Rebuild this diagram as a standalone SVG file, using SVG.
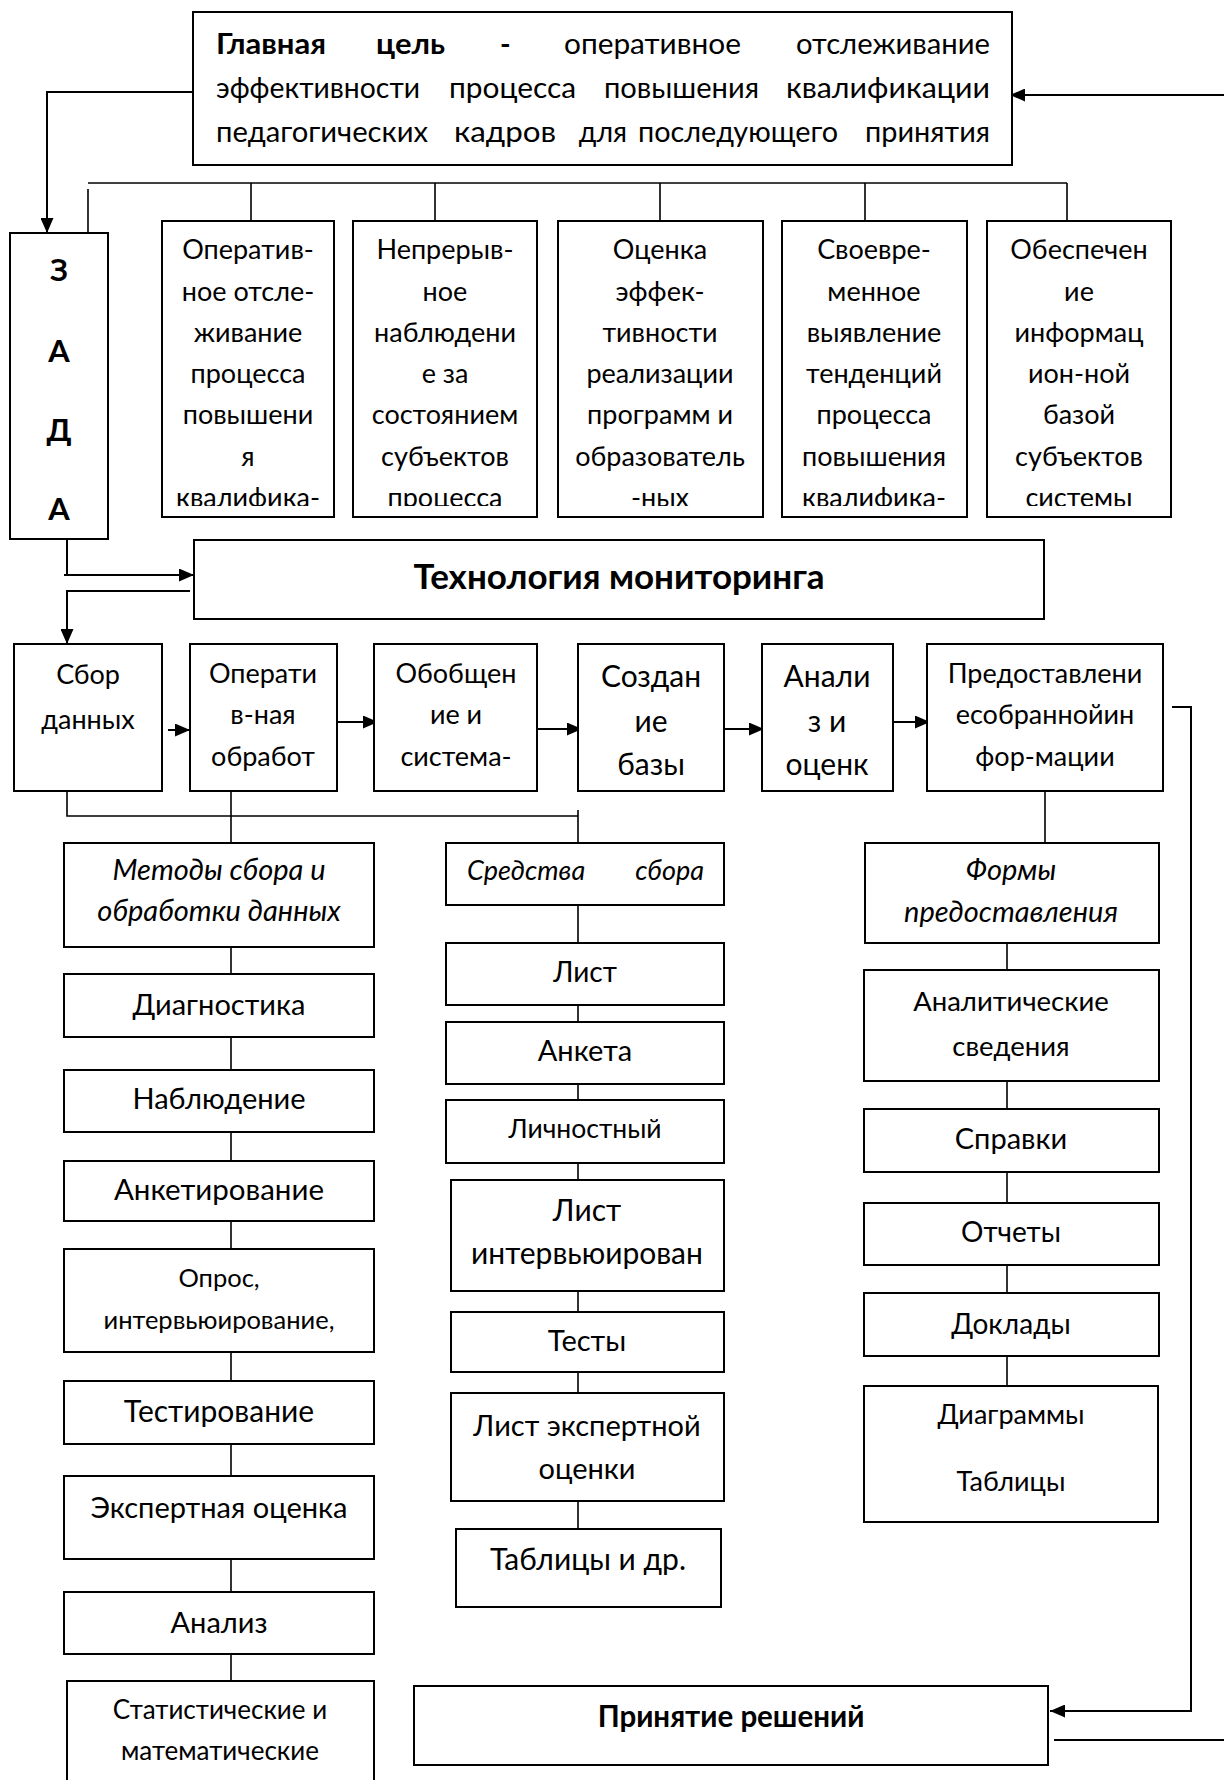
<svg xmlns="http://www.w3.org/2000/svg" width="1224" height="1780" viewBox="0 0 1224 1780">
<style>
.box{fill:#fff;stroke:#000;stroke-width:2}
.ln{fill:none;stroke:#000;stroke-width:2}
.thin{fill:none;stroke:#000;stroke-width:1.6}
text{font-family:Lato,"Liberation Sans",sans-serif;fill:#000}
.t{font-size:29px;text-anchor:middle}
.tt{font-size:27px;text-anchor:middle}
.tb{font-weight:bold;text-anchor:middle}
.ti{font-style:italic}
.top{font-size:28.5px}
</style>
<defs>
<marker id="ah" markerUnits="userSpaceOnUse" markerWidth="15" markerHeight="13" refX="15" refY="6.5" orient="auto">
<path d="M0,0 L15,6.5 L0,13 z" fill="#000"/>
</marker>
<clipPath id="c1"><rect x="162" y="221" width="172" height="285"/></clipPath>
<clipPath id="c2"><rect x="353" y="221" width="184" height="285"/></clipPath>
<clipPath id="c3"><rect x="558" y="221" width="205" height="285"/></clipPath>
<clipPath id="c4"><rect x="782" y="221" width="185" height="285"/></clipPath>
<clipPath id="c5"><rect x="987" y="221" width="184" height="285"/></clipPath>
</defs>

<g id="connectors">
<path class="ln" d="M193,92 H47 V233" marker-end="url(#ah)"/>
<path class="ln" d="M1224,95 H1010" marker-end="url(#ah)"/>
<path class="thin" d="M88,183 H1067"/>
<path class="thin" d="M88,189 V233"/>
<path class="thin" d="M251,183 V221 M435,183 V221 M660,183 V221 M865,183 V221 M1067,183 V221"/>
<path class="ln" d="M67,539 V575 M64,575 H194" marker-end="url(#ah)"/>
<path class="ln" d="M190,591 H67 V644" marker-end="url(#ah)"/>
<path class="ln" d="M168,730 H190" marker-end="url(#ah)"/>
<path class="ln" d="M333,722 H378" marker-end="url(#ah)"/>
<path class="ln" d="M538,729 H582" marker-end="url(#ah)"/>
<path class="ln" d="M721,729 H764" marker-end="url(#ah)"/>
<path class="ln" d="M885,722 H930" marker-end="url(#ah)"/>
<path class="ln" d="M1172,707 H1191 V1711 H1050" marker-end="url(#ah)"/>
<path class="ln" d="M1054,1740 H1224"/>
<path class="thin" d="M67,791 V816 H578 M578,810 V843"/>
<path class="thin" d="M231,791 V843"/>
<path class="thin" d="M1045,791 V843"/>
<path class="thin" d="M231,947 V974 M231,1037 V1070 M231,1132 V1161 M231,1221 V1249 M231,1352 V1381 M231,1444 V1476 M231,1559 V1592 M231,1654 V1681"/>
<path class="thin" d="M578,905 V945 M578,1001 V1027 M578,1080 V1105 M578,1154 V1182 M578,1289 V1316 M578,1372 V1396 M578,1501 V1529"/>
<path class="thin" d="M1007,943 V970 M1007,1081 V1109 M1007,1172 V1203 M1007,1265 V1293 M1007,1356 V1386"/>
</g>

<g id="goal">
<rect class="box" x="193" y="12" width="819" height="153"/>
<text class="top" x="216" y="54" font-weight="bold" textLength="110" lengthAdjust="spacingAndGlyphs">Главная</text>
<text class="top" x="376" y="54" font-weight="bold" textLength="69" lengthAdjust="spacingAndGlyphs">цель</text>
<text class="top" x="500" y="54" font-weight="bold">-</text>
<text class="top" x="564" y="54" textLength="177" lengthAdjust="spacingAndGlyphs">оперативное</text>
<text class="top" x="796" y="54" textLength="194" lengthAdjust="spacingAndGlyphs">отслеживание</text>
<text class="top" x="216" y="98" textLength="204" lengthAdjust="spacingAndGlyphs">эффективности</text>
<text class="top" x="449" y="98" textLength="127" lengthAdjust="spacingAndGlyphs">процесса</text>
<text class="top" x="604" y="98" textLength="155" lengthAdjust="spacingAndGlyphs">повышения</text>
<text class="top" x="786" y="98" textLength="204" lengthAdjust="spacingAndGlyphs">квалификации</text>
<text class="top" x="216" y="142" textLength="212" lengthAdjust="spacingAndGlyphs">педагогических</text>
<text class="top" x="454" y="142" textLength="102" lengthAdjust="spacingAndGlyphs">кадров</text>
<text class="top" x="603" y="142" text-anchor="middle">для</text>
<text class="top" x="638" y="142" textLength="200" lengthAdjust="spacingAndGlyphs">последующего</text>
<text class="top" x="865" y="142" textLength="125" lengthAdjust="spacingAndGlyphs">принятия</text>
</g>

<g id="zadachi">
<rect class="box" x="10" y="233" width="98" height="306"/>
<text class="tb" style="font-size:31px" x="59" y="281">З</text>
<text class="tb" style="font-size:31px" x="59" y="362">А</text>
<text class="tb" style="font-size:31px" x="59" y="441">Д</text>
<text class="tb" style="font-size:31px" x="59" y="520">А</text>
</g>

<g id="task1">
<rect class="box" x="162" y="221" width="172" height="296"/>
<g clip-path="url(#c1)"><text class="tt"><tspan x="248" y="259">Оператив-</tspan><tspan x="248" y="301">ное отсле-</tspan><tspan x="248" y="342">живание</tspan><tspan x="248" y="383">процесса</tspan><tspan x="248" y="424">повышени</tspan><tspan x="248" y="466">я</tspan><tspan x="248" y="507">квалифика-</tspan></text></g>
</g>
<g id="task2">
<rect class="box" x="353" y="221" width="184" height="296"/>
<g clip-path="url(#c2)"><text class="tt"><tspan x="445" y="259">Непрерыв-</tspan><tspan x="445" y="301">ное</tspan><tspan x="445" y="342">наблюдени</tspan><tspan x="445" y="383">е за</tspan><tspan x="445" y="424">состоянием</tspan><tspan x="445" y="466">субъектов</tspan><tspan x="445" y="507">процесса</tspan></text></g>
</g>
<g id="task3">
<rect class="box" x="558" y="221" width="205" height="296"/>
<g clip-path="url(#c3)"><text class="tt"><tspan x="660" y="259">Оценка</tspan><tspan x="660" y="301">эффек-</tspan><tspan x="660" y="342">тивности</tspan><tspan x="660" y="383">реализации</tspan><tspan x="660" y="424">программ и</tspan><tspan x="660" y="466">образователь</tspan><tspan x="660" y="507">-ных</tspan></text></g>
</g>
<g id="task4">
<rect class="box" x="782" y="221" width="185" height="296"/>
<g clip-path="url(#c4)"><text class="tt"><tspan x="874" y="259">Своевре-</tspan><tspan x="874" y="301">менное</tspan><tspan x="874" y="342">выявление</tspan><tspan x="874" y="383">тенденций</tspan><tspan x="874" y="424">процесса</tspan><tspan x="874" y="466">повышения</tspan><tspan x="874" y="507">квалифика-</tspan></text></g>
</g>
<g id="task5">
<rect class="box" x="987" y="221" width="184" height="296"/>
<g clip-path="url(#c5)"><text class="tt"><tspan x="1079" y="259">Обеспечен</tspan><tspan x="1079" y="301">ие</tspan><tspan x="1079" y="342">информац</tspan><tspan x="1079" y="383">ион-ной</tspan><tspan x="1079" y="424">базой</tspan><tspan x="1079" y="466">субъектов</tspan><tspan x="1079" y="507">системы</tspan></text></g>
</g>

<g id="tech">
<rect class="box" x="194" y="540" width="850" height="79"/>
<text class="tb" style="font-size:35px" x="619" y="589">Технология мониторинга</text>
</g>

<g id="sbor">
<rect class="box" x="14" y="644" width="148" height="147"/>
<text class="tt"><tspan x="88" y="684">Сбор</tspan><tspan x="88" y="729">данных</tspan></text>
</g>
<g id="obrab">
<rect class="box" x="190" y="644" width="147" height="147"/>
<text class="tt"><tspan x="263" y="683">Операти</tspan><tspan x="263" y="724">в-ная</tspan><tspan x="263" y="766">обработ</tspan></text>
</g>
<g id="obobsh">
<rect class="box" x="374" y="644" width="163" height="147"/>
<text class="tt"><tspan x="456" y="683">Обобщен</tspan><tspan x="456" y="724">ие и</tspan><tspan x="456" y="766">система-</tspan></text>
</g>
<g id="baza">
<rect class="box" x="578" y="644" width="146" height="147"/>
<text class="t" style="font-size:30px"><tspan x="651" y="687">Создан</tspan><tspan x="651" y="732">ие</tspan><tspan x="651" y="775">базы</tspan></text>
</g>
<g id="analiz">
<rect class="box" x="762" y="644" width="131" height="147"/>
<text class="t" style="font-size:30px"><tspan x="827" y="687">Анали</tspan><tspan x="827" y="732">з и</tspan><tspan x="827" y="775">оценк</tspan></text>
</g>
<g id="predost">
<rect class="box" x="927" y="644" width="236" height="147"/>
<text class="tt"><tspan x="1045" y="683">Предоставлени</tspan><tspan x="1045" y="724">есобраннойин</tspan><tspan x="1045" y="766">фор-мации</tspan></text>
</g>

<g id="metody">
<rect class="box" x="64" y="843" width="310" height="104"/>
<text class="t ti"><tspan x="219" y="880">Методы сбора и</tspan><tspan x="219" y="921">обработки данных</tspan></text>
</g>
<g id="diag"><rect class="box" x="64" y="974" width="310" height="63"/><text class="t" x="219" y="1015">Диагностика</text></g>
<g id="nabl"><rect class="box" x="64" y="1070" width="310" height="62"/><text class="t" x="219" y="1109">Наблюдение</text></g>
<g id="anket"><rect class="box" x="64" y="1161" width="310" height="60"/><text class="t" style="font-size:29.5px" x="219" y="1200">Анкетирование</text></g>
<g id="opros"><rect class="box" x="64" y="1249" width="310" height="103"/><text class="t" style="font-size:25.5px"><tspan x="219" y="1287">Опрос,</tspan><tspan x="219" y="1329">интервьюирование,</tspan></text></g>
<g id="test"><rect class="box" x="64" y="1381" width="310" height="63"/><text class="t" style="font-size:30px" x="219" y="1422">Тестирование</text></g>
<g id="expert"><rect class="box" x="64" y="1476" width="310" height="83"/><text class="t" x="219" y="1518">Экспертная оценка</text></g>
<g id="analiz2"><rect class="box" x="64" y="1592" width="310" height="62"/><text class="t" x="219" y="1633">Анализ</text></g>
<g id="stat"><rect class="box" x="67" y="1681" width="307" height="130"/><text class="t" style="font-size:26px"><tspan x="220" y="1719">Статистические и</tspan><tspan x="220" y="1760">математические</tspan></text></g>

<g id="sredstva">
<rect class="box" x="446" y="843" width="278" height="62"/>
<text class="ti" style="font-size:27px" x="467" y="880" text-anchor="start">Средства</text>
<text class="ti" style="font-size:27px" x="704" y="880" text-anchor="end">сбора</text>
</g>
<g id="list"><rect class="box" x="446" y="943" width="278" height="62"/><text class="t" style="font-size:28px" x="585" y="982">Лист</text></g>
<g id="anketa"><rect class="box" x="446" y="1022" width="278" height="62"/><text class="t" x="585" y="1061">Анкета</text></g>
<g id="lichn"><rect class="box" x="446" y="1100" width="278" height="63"/><text class="t" style="font-size:26.5px" x="585" y="1138">Личностный</text></g>
<g id="listint"><rect class="box" x="451" y="1180" width="273" height="111"/><text class="t" style="font-size:30px"><tspan x="587" y="1221">Лист</tspan><tspan x="587" y="1264">интервьюирован</tspan></text></g>
<g id="testy"><rect class="box" x="451" y="1312" width="273" height="60"/><text class="t" x="587" y="1351">Тесты</text></g>
<g id="listexp"><rect class="box" x="451" y="1393" width="273" height="108"/><text class="t"><tspan x="587" y="1436">Лист экспертной</tspan><tspan x="587" y="1479">оценки</tspan></text></g>
<g id="tabl"><rect class="box" x="456" y="1529" width="265" height="78"/><text class="t" style="font-size:30px" x="588" y="1570">Таблицы и др.</text></g>

<g id="formy">
<rect class="box" x="865" y="843" width="294" height="100"/>
<text class="t ti"><tspan x="1011" y="880">Формы</tspan><tspan x="1011" y="922">предоставления</tspan></text>
</g>
<g id="analit"><rect class="box" x="864" y="970" width="295" height="111"/><text class="t" style="font-size:27.5px"><tspan x="1011" y="1011">Аналитические</tspan><tspan x="1011" y="1056">сведения</tspan></text></g>
<g id="spravki"><rect class="box" x="864" y="1109" width="295" height="63"/><text class="t" x="1011" y="1149">Справки</text></g>
<g id="otchety"><rect class="box" x="864" y="1203" width="295" height="62"/><text class="t" style="font-size:28px" x="1011" y="1242">Отчеты</text></g>
<g id="doklady"><rect class="box" x="864" y="1293" width="295" height="63"/><text class="t" style="font-size:28px" x="1011" y="1334">Доклады</text></g>
<g id="diagr"><rect class="box" x="864" y="1386" width="294" height="136"/><text class="t" style="font-size:27px"><tspan x="1011" y="1424">Диаграммы</tspan><tspan x="1011" y="1491">Таблицы</tspan></text></g>

<g id="reshenie">
<rect class="box" x="414" y="1686" width="634" height="79"/>
<text class="tb" style="font-size:29.5px" x="731" y="1727">Принятие решений</text>
</g>
</svg>
